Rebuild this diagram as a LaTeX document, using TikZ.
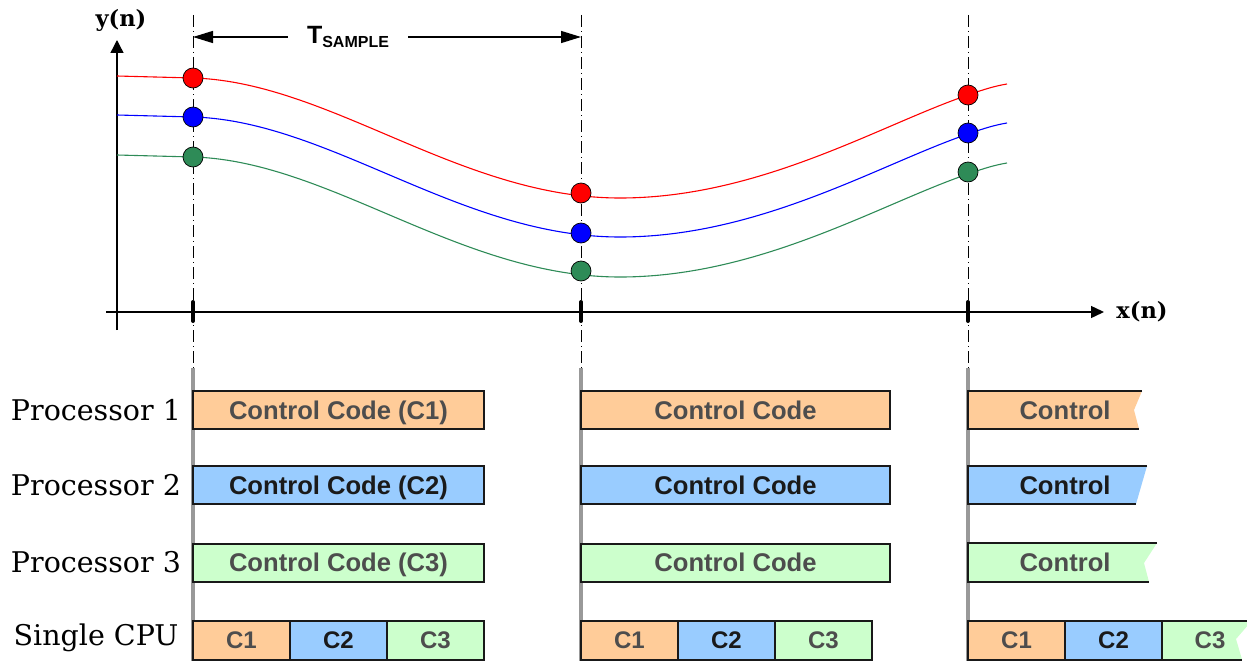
\documentclass[tikz,border=0pt]{standalone}
\usepackage{fontspec}
\setmainfont{DejaVu Serif}
\newfontfamily\arialf{Liberation Sans}
\usetikzlibrary{arrows.meta}
\definecolor{orfill}{HTML}{FFCC99}
\definecolor{blfill}{HTML}{99CCFF}
\definecolor{grfill}{HTML}{CCFFCC}
\definecolor{dgtext}{HTML}{4D4D4D}
\definecolor{bktext}{HTML}{1A1A1A}
\definecolor{sgreen}{HTML}{2E8B57}
\definecolor{bargray}{HTML}{999999}
\begin{document}
\begin{tikzpicture}[x=1pt,y=-1pt,
 axisline/.style={line width=1.4pt},
 sampleline/.style={line width=1pt, dash pattern=on 12pt off 4pt on 1pt off 4pt},
 tickmark/.style={line width=4pt, line cap=round},
 barline/.style={line width=3.5pt, draw=bargray},
 curveline/.style={line width=1.1pt},
 sdot/.style={circle, draw=black, line width=0.7pt, minimum size=20pt, inner sep=0pt},
 task/.style={draw=black!90, line width=2pt, minimum height=38pt, inner sep=0pt, text height=18.3pt, text depth=0pt, font=\arialf\bfseries\fontsize{25.6}{30}\selectfont},
 cpu/.style={task, minimum width=97pt, minimum height=39pt, text height=17pt, font=\arialf\bfseries\fontsize{24}{28}\selectfont},
 orb/.style={fill=orfill, text=dgtext},
 blb/.style={fill=blfill, text=bktext},
 grb/.style={fill=grfill, text=dgtext},
 tasktext/.style={inner sep=0pt, text height=18.3pt, text depth=0pt, font=\arialf\bfseries\fontsize{25.6}{30}\selectfont},
 tornedge/.style={line width=2pt, draw=black!90},
 proc/.style={anchor=east, font=\fontsize{28.5}{33}\selectfont},
 axlabel/.style={font=\bfseries\fontsize{22.5}{26}\selectfont},
 dimarrow/.style={line width=1.4pt, -{Triangle[length=20pt,width=12pt]}},
]
\useasboundingbox (0,0) rectangle (1247,661);

% axes
\coordinate (yb) at (117,330);
\coordinate (yt) at (117,40);
\coordinate (xl) at (106,312);
\coordinate (xr) at (1104,312);
\draw[axisline, -{Triangle[length=13pt,width=13pt]}] (yb) -- (yt);
\draw[axisline, -{Triangle[length=13pt,width=12pt]}] (xl) -- (xr);
\node[axlabel] (ylab) at (121,20) {y(n)};
\node[axlabel] (xlab) at (1142,312) {x(n)};

% sample lines
\foreach \sx/\nm in {193/a,581/b,968/c}{
  \coordinate (top\nm) at (\sx,15);
  \coordinate (mid\nm) at (\sx,368);
  \coordinate (bot\nm) at (\sx,661);
  \coordinate (tka\nm) at (\sx,302);
  \coordinate (tkb\nm) at (\sx,321);
  \draw[sampleline] (top\nm) -- (mid\nm);
  \draw[barline] (mid\nm) -- (bot\nm);
  \draw[tickmark] (tka\nm) -- (tkb\nm);
}

% T sample
\node[inner xsep=19pt, inner ysep=2pt, font=\arialf\bfseries\fontsize{25}{30}\selectfont] (tlab) at (348,37)
  {T\raisebox{-0.16em}{\fontsize{16}{18}\selectfont SAMPLE}};
\coordinate (ta) at (193,37);
\coordinate (tb) at (581,37);
\draw[dimarrow] (tlab.west |- ta) -- (ta);
\draw[dimarrow] (tlab.east |- tb) -- (tb);

% curves
\foreach \dy/\col in {0/red,39/blue,79/sgreen}{
  \draw[curveline, \col, shift={(0,\dy)}] (117,76) -- (193,78)
    .. controls (330,82) and (460,198) .. (620,198)
    .. controls (760,198) and (880,125) .. (968,95)
    .. controls (985,89) and (995,86) .. (1007,84);
}

% sample dots
\node[sdot, fill=red] (r1) at (193,78) {};
\node[sdot, fill=blue] (b1) at (193,117) {};
\node[sdot, fill=sgreen] (g1) at (193,157) {};
\node[sdot, fill=red] (r2) at (581,193) {};
\node[sdot, fill=blue] (b2) at (581,233) {};
\node[sdot, fill=sgreen] (g2) at (581,271) {};
\node[sdot, fill=red] (r3) at (968,95) {};
\node[sdot, fill=blue] (b3) at (968,133) {};
\node[sdot, fill=sgreen] (g3) at (968,172) {};

% processor labels
\node[proc] (lp1) at (184.5,410) {Processor 1};
\node[proc] (lp2) at (184.5,485) {Processor 2};
\node[proc] (lp3) at (184.5,562) {Processor 3};
\node[proc] (lcpu) at (182,638) {Single CPU};

% column 1
\node[task, orb, minimum width=291pt] (p1a) at (338.5,410) {Control Code (C1)};
\node[task, blb, minimum width=291pt] (p2a) at (338.5,485) {Control Code (C2)};
\node[task, grb, minimum width=291pt] (p3a) at (338.5,562.5) {Control Code (C3)};
\node[cpu, orb] (c1a) at (241.5,640) {C1};
\node[cpu, blb] (c2a) at (338.5,640) {C2};
\node[cpu, grb] (c3a) at (435.5,640) {C3};

% column 2
\node[task, orb, minimum width=309pt] (p1b) at (735.5,410) {Control Code};
\node[task, blb, minimum width=309pt] (p2b) at (735.5,485) {Control Code};
\node[task, grb, minimum width=309pt] (p3b) at (735.5,562.5) {Control Code};
\node[cpu, orb] (c1b) at (629.5,640) {C1};
\node[cpu, blb] (c2b) at (726.5,640) {C2};
\node[cpu, grb] (c3b) at (823.5,640) {C3};

% column 3 (torn boxes)
\fill[orfill] (968,391) -- (1142,391) -- (1134,410) -- (1139,429) -- (968,429) -- cycle;
\draw[tornedge] (1142,391) -- (968,391) -- (968,429) -- (1139,429);
\node[tasktext, text=dgtext] (p1c) at (1065,410) {Control};

\fill[blfill] (968,466) -- (1147,466) -- (1136,504) -- (968,504) -- cycle;
\draw[tornedge] (1147,466) -- (968,466) -- (968,504) -- (1136,504);
\node[tasktext, text=bktext] (p2c) at (1065,485) {Control};

\fill[grfill] (968,543) -- (1157,543) -- (1144,563) -- (1149,582) -- (968,582) -- cycle;
\draw[tornedge] (1157,543) -- (968,543) -- (968,582) -- (1149,582);
\node[tasktext, text=dgtext] (p3c) at (1065,562.5) {Control};

\node[cpu, orb] (c1c) at (1016.5,640) {C1};
\node[cpu, blb] (c2c) at (1113.5,640) {C2};
\fill[grfill] (1162,620.5) -- (1252,620.5) -- (1236,639) -- (1242,659.5) -- (1162,659.5) -- cycle;
\draw[tornedge] (1252,620.5) -- (1162,620.5) -- (1162,659.5) -- (1242,659.5);
\node[inner sep=0pt, text height=17pt, text depth=0pt, font=\arialf\bfseries\fontsize{24}{28}\selectfont, text=dgtext] (c3c) at (1210,640) {C3};
\end{tikzpicture}
\end{document}
